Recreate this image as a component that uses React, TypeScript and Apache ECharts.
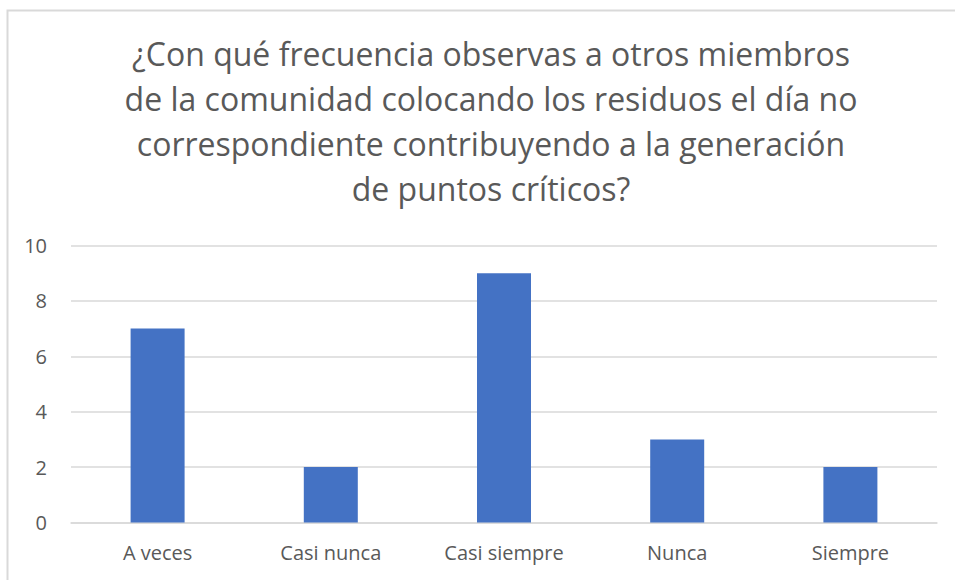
import React, { useEffect, useRef } from "react";
import * as echarts from "echarts";

const titleText =
  "¿Con qué frecuencia observas a otros miembros\nde la comunidad colocando los residuos el día no\ncorrespondiente contribuyendo a la generación\nde puntos críticos?";
const categories = ["A veces", "Casi nunca", "Casi siempre", "Nunca", "Siempre"];
const values = [7, 2, 9, 3, 2];
const yTicks = { min: 0, max: 10, interval: 2 };

export default function App() {
  const ref = useRef<HTMLDivElement>(null);
  useEffect(() => {
    const chart = echarts.init(ref.current!, null, { renderer: "svg" });
    chart.setOption({
      animation: false,
      backgroundColor: "#ffffff",
      title: {
        text: titleText,
        left: 491,
        top: 31,
        padding: 0,
        textAlign: "center",
        textStyle: {
          fontFamily: "Open Sans",
          fontSize: 32,
          fontWeight: "normal",
          color: "#595959",
          lineHeight: 45,
        },
      },
      graphic: [
        {
          type: "rect",
          shape: { x: 7.5, y: 10.5, width: 1000, height: 1000 },
          style: { fill: "none", stroke: "#d9d9d9", lineWidth: 2 },
          silent: true,
        },
      ],
      grid: { left: 71, right: 18, top: 245.5, bottom: 57.5, containLabel: false },
      xAxis: {
        type: "category",
        data: categories,
        axisLine: { show: true, lineStyle: { color: "#d9d9d9", width: 1.5 } },
        axisTick: { show: false },
        axisLabel: {
          color: "#595959",
          fontFamily: "Open Sans",
          fontSize: 20,
          margin: 20,
        },
      },
      yAxis: {
        type: "value",
        min: yTicks.min,
        max: yTicks.max,
        interval: yTicks.interval,
        axisLine: { show: false },
        axisTick: { show: false },
        splitLine: { lineStyle: { color: "#d9d9d9", width: 1.5 } },
        axisLabel: {
          color: "#595959",
          fontFamily: "Open Sans",
          fontSize: 20,
          margin: 24,
        },
      },
      series: [
        {
          type: "bar",
          data: values,
          barWidth: 54,
          itemStyle: { color: "#4472c4" },
        },
      ],
    });
    return () => chart.dispose();
  }, []);
  return (
    <div
      ref={ref}
      style={{ position: "fixed", left: 0, top: 0, width: 955, height: 580 }}
    />
  );
}
